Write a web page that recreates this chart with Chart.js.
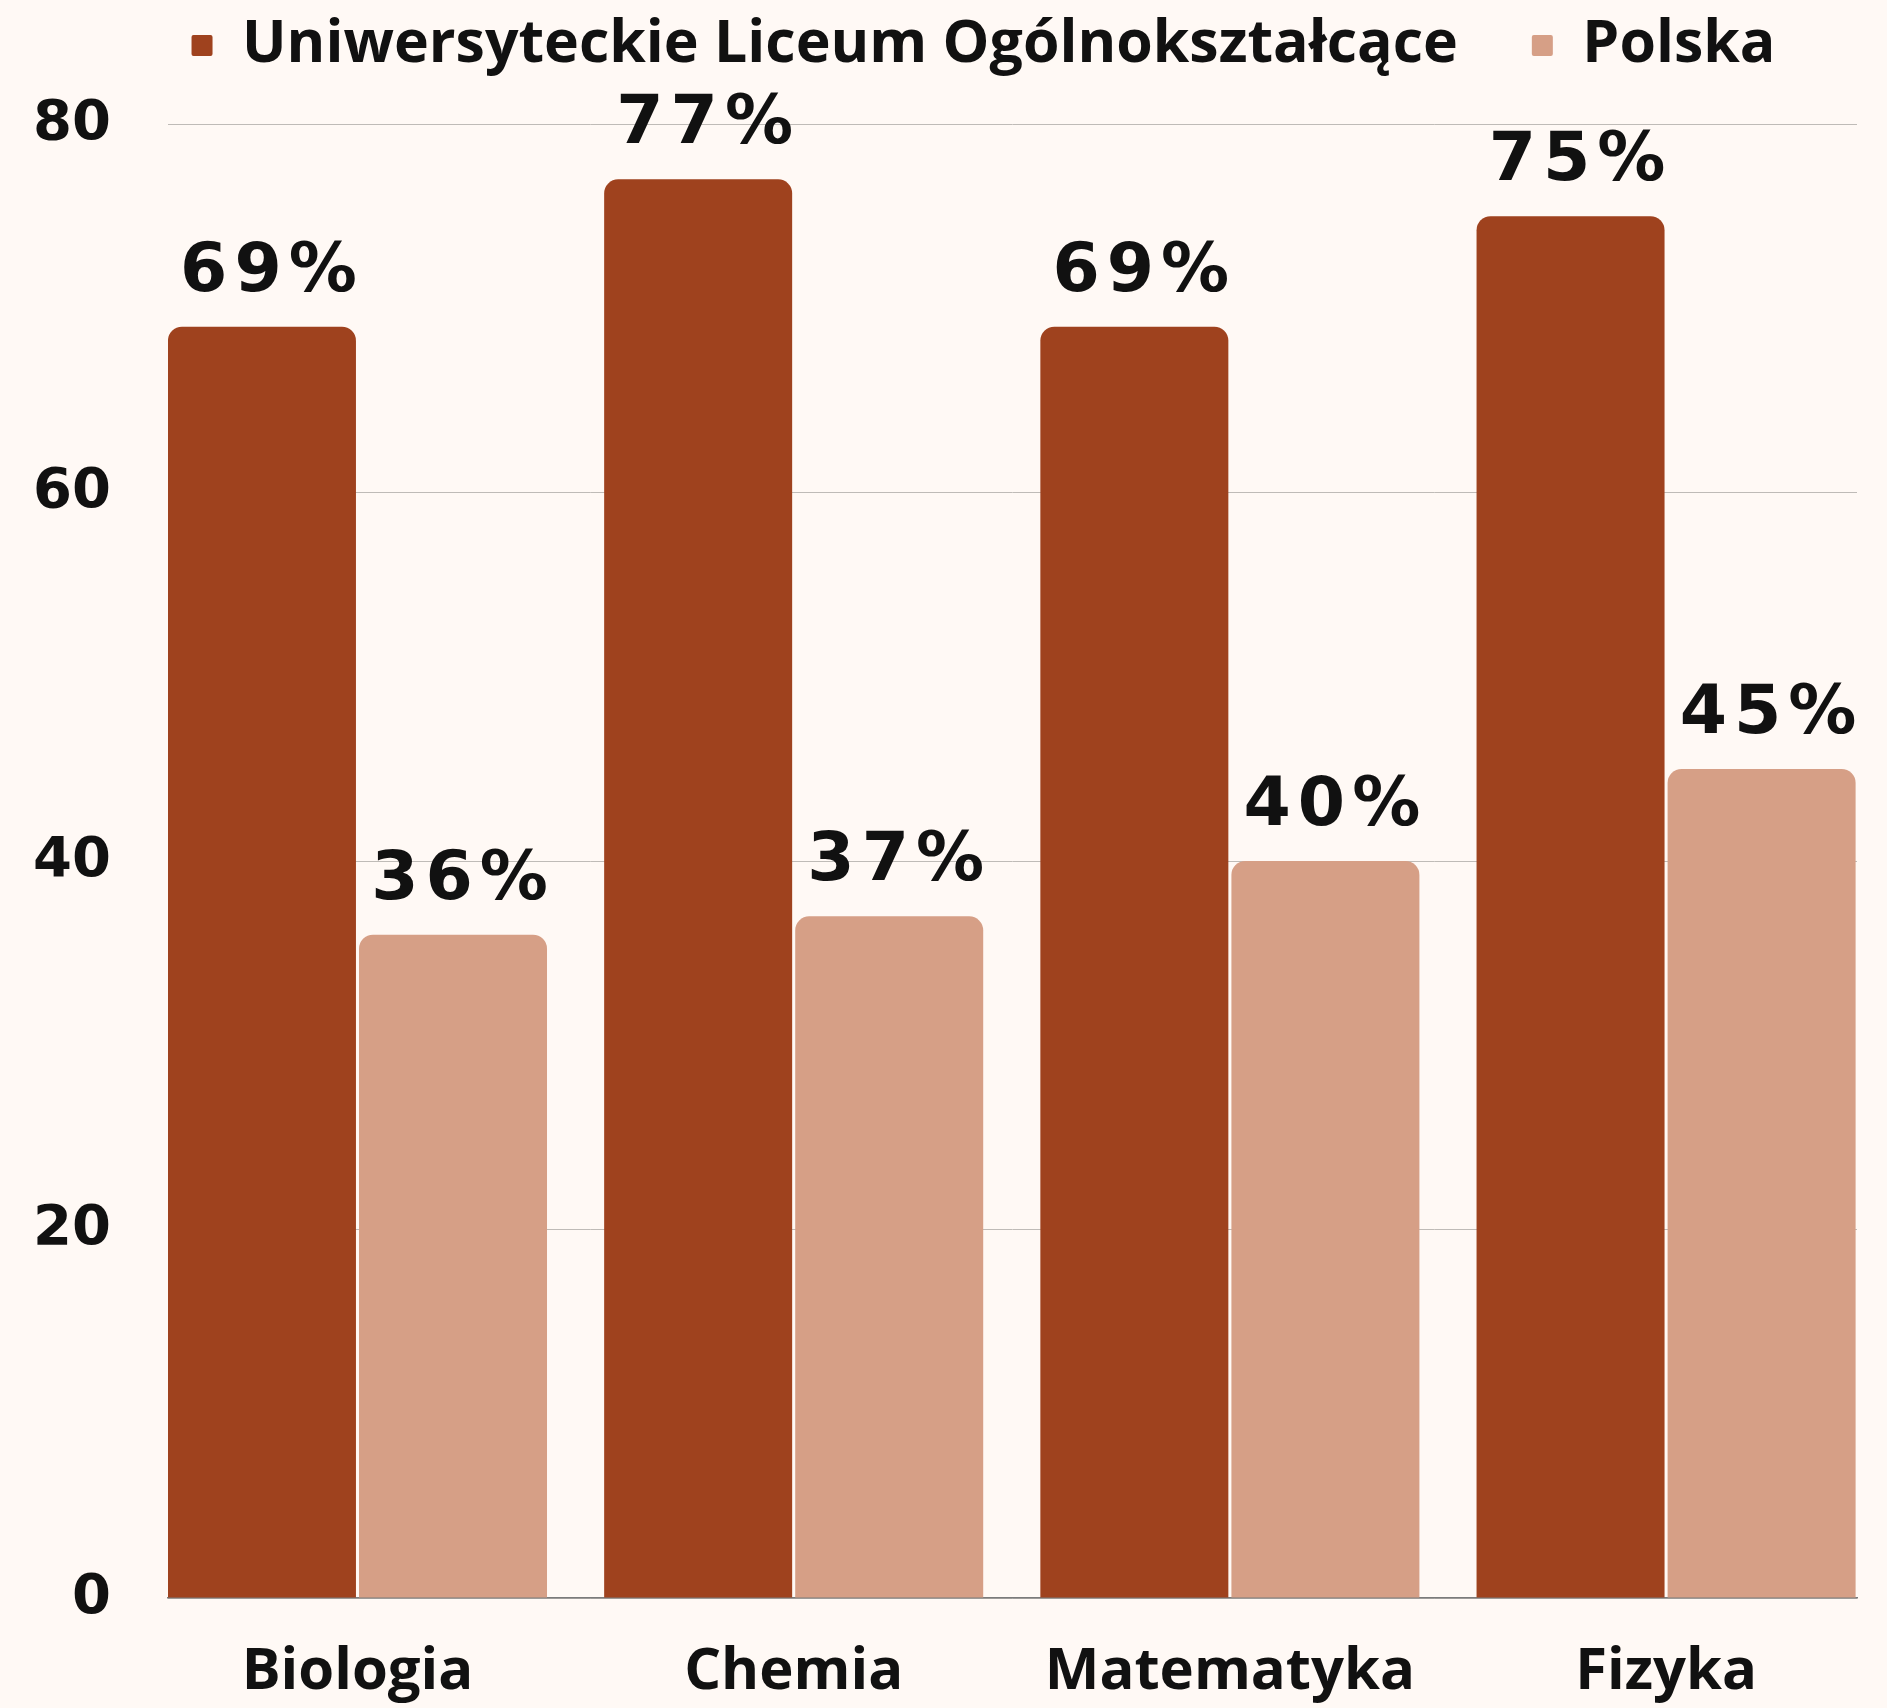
<!DOCTYPE html>
<html>
<head>
<meta charset="utf-8">
<script src="https://cdn.jsdelivr.net/npm/chart.js@4/dist/chart.umd.min.js"></script>
<style>
  html, body { margin: 0; padding: 0; background: #fff9f5; }
  #wrap { width: 1887px; height: 1708px; position: relative; }
</style>
</head>
<body>
<div id="wrap"><canvas id="myChart"></canvas></div>
<script>
// data
const subjects = ['Biologia', 'Chemia', 'Matematyka', 'Fizyka'];
const seriesNames = ['Uniwersyteckie Liceum Ogólnokształcące', 'Polska'];
const liceum = [69, 77, 69, 75];
const polska = [36, 37, 40, 45];
const yTicks = [0, 20, 40, 60, 80];

const darkColor = '#9f421e';
const lightColor = '#d69f86';

// percentages written above each bar
const valueLabels = {
  id: 'valueLabels',
  afterDatasetsDraw(chart) {
    const ctx = chart.ctx;
    ctx.save();
    ctx.font = 'bold 68px "DejaVu Sans"';
    ctx.letterSpacing = '7px';
    ctx.fillStyle = '#111111';
    ctx.textAlign = 'center';
    ctx.textBaseline = 'alphabetic';
    chart.data.datasets.forEach((ds, i) => {
      chart.getDatasetMeta(i).data.forEach((bar, j) => {
        ctx.fillText(ds.data[j].y + '%', bar.x + 10, bar.y - 36);
      });
    });
    ctx.restore();
  }
};

// fixed legend height, and nudge the legend row to the right
const legendPlacement = {
  id: 'legendPlacement',
  beforeInit(chart) {
    const fit = chart.legend.fit;
    chart.legend.fit = function() {
      fit.bind(chart.legend)();
      this.height = 182;
    };
  },
  afterLayout(chart) {
    chart.legend.left += 55;
    chart.legend.right += 55;
  }
};

window.onload = function() {
  const ctx = document.getElementById('myChart').getContext('2d');
  Chart.defaults.color = '#111111';

  new Chart(ctx, {
    type: 'bar',
    data: {
      datasets: [
        {
          label: seriesNames[0],
          backgroundColor: darkColor,
          data: liceum.map((v, i) => ({ x: i, y: v })),
        },
        {
          label: seriesNames[1],
          backgroundColor: lightColor,
          data: polska.map((v, i) => ({ x: i, y: v })),
        },
      ],
    },
    options: {
      responsive: true,
      maintainAspectRatio: false,
      animation: false,
      categoryPercentage: 0.876,
      barPercentage: 0.984,
      borderRadius: { topLeft: 14, topRight: 14 },
      borderSkipped: 'start',
      layout: { padding: { top: -58, left: 0, right: 30, bottom: 0 } },
      plugins: {
        tooltip: { enabled: false },
        legend: {
          position: 'top',
          labels: {
            boxWidth: 21,
            boxHeight: 21,
            padding: 74,
            useBorderRadius: true,
            borderRadius: 2,
            color: '#111111',
            font: { family: '"Open Sans"', size: 59, weight: 'bold' },
          },
        },
      },
      scales: {
        x: {
          type: 'linear',
          offset: false,
          min: -0.4344,
          max: 3.4377,
          z: 1,
          grid: { display: false },
          border: { display: true, color: '#7b7b7b', width: 1.5 },
          afterFit: s => { s.height = 110; },
          afterBuildTicks: axis => { axis.ticks = subjects.map((_, i) => ({ value: i })); },
          ticks: {
            autoSkip: false,
            maxRotation: 0,
            padding: 32,
            color: '#111111',
            font: { family: '"Open Sans"', size: 58, weight: 'bold' },
            callback: v => subjects[v],
          },
        },
        y: {
          min: 0,
          max: 80,
          afterFit: s => { s.width = 168; },
          afterBuildTicks: axis => { axis.ticks = yTicks.map(v => ({ value: v })); },
          grid: { color: '#bfbbb7', lineWidth: 1, drawTicks: false },
          border: { display: false },
          ticks: {
            padding: 57,
            color: '#111111',
            font: { family: '"DejaVu Sans"', size: 56, weight: 'bold' },
          },
        },
      },
    },
    plugins: [valueLabels, legendPlacement],
  });
};
</script>
</body>
</html>
